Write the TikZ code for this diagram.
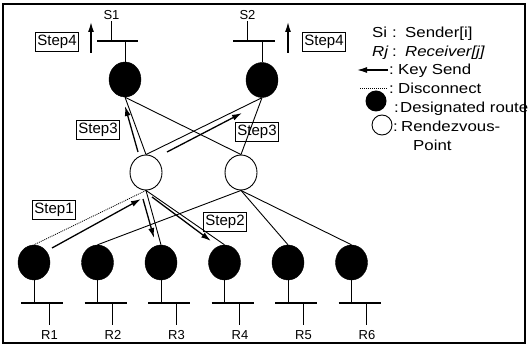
\documentclass[tikz,border=0pt]{standalone}
\usepackage{fontspec}
\setmainfont{Liberation Sans}
\newfontfamily\legfont{Liberation Sans}[FakeStretch=1.16]
\usetikzlibrary{arrows.meta,shapes.geometric}
\begin{document}
\begin{tikzpicture}[x=1pt,y=-1pt,
  rtr/.style={ellipse, fill=black, draw=black, minimum width=32pt, minimum height=35pt, inner sep=0pt},
  rpt/.style={ellipse, draw=black, line width=0.9pt, fill=white, minimum width=32pt, minimum height=35pt, inner sep=0pt},
  edge/.style={line width=0.9pt},
  disc/.style={line width=0.8pt, dash pattern=on 1pt off 1pt},
  keysend/.style={line width=1.3pt, -{Latex[length=10pt,width=6pt]}},
  stepbox/.style={draw, line width=0.9pt, font=\fontsize{15}{17}\selectfont, inner xsep=1.5pt, inner ysep=2.5pt},
  lbl/.style={font=\fontsize{13}{15}\selectfont, inner sep=0pt},
  leg/.style={font=\legfont\fontsize{14.5}{17}\selectfont, inner sep=0pt, anchor=base west},
  barline/.style={line width=1.1pt},
  stem/.style={line width=0.9pt}]
\useasboundingbox (0,0) rectangle (529,347);
\draw[line width=1.1pt] (3,4) rectangle (525,343);

% routers
\node[rtr] (S1r) at (125,79.5) {};
\node[rtr] (S2r) at (262,80) {};
\node[rpt] (P1) at (146,172.5) {};
\node[rpt] (P2) at (241,172.5) {};
\foreach \i/\c in {1/34,2/97.5,3/161,4/224.5,5/288,6/351.5}{
  \node[rtr] (R\i r) at (\c,262.5) {};
  \coordinate (R\i b) at (\c,303);
  \coordinate (R\i bl) at (\c-13,303);
  \coordinate (R\i br) at (\c+29,303);
  \coordinate (R\i s) at (\c+15,303);
  \coordinate (R\i e) at (\c+15,325);
  \draw[stem] (R\i r.south) -- (R\i b);
  \draw[barline] (R\i bl) -- (R\i br);
  \draw[stem] (R\i s) -- (R\i e);
  \node[lbl] (R\i l) at (\c+15.5,335) {R\i};
}

% sender stubs
\coordinate (S1b) at (125,41);
\coordinate (S1bl) at (97,41);
\coordinate (S1br) at (138,41);
\coordinate (S1s) at (111,41);
\coordinate (S1e) at (111,21);
\draw[stem] (S1r.north) -- (S1b);
\draw[barline] (S1bl) -- (S1br);
\draw[stem] (S1s) -- (S1e);
\node[lbl] (S1l) at (111.5,15) {S1};
\coordinate (S2b) at (262,41);
\coordinate (S2bl) at (233,41);
\coordinate (S2br) at (275,41);
\coordinate (S2s) at (247,41);
\coordinate (S2e) at (247,21);
\draw[stem] (S2r.north) -- (S2b);
\draw[barline] (S2bl) -- (S2br);
\draw[stem] (S2s) -- (S2e);
\node[lbl] (S2l) at (247.5,15) {S2};

% edges
\draw[edge] (S1r.south) -- (P1.north);
\draw[edge] (S1r.south) -- (P2.north);
\draw[edge] (S2r.south) -- (P1.north);
\draw[edge] (S2r.south) -- (P2.north);
\draw[disc] (P1.south) -- (R1r.north);
\draw[edge] (P1.south) -- (R3r.north);
\draw[edge] (P1.south) -- (R4r.north);
\draw[edge] (P2.south) -- (R2r.north);
\draw[edge] (P2.south) -- (R5r.north);
\draw[edge] (P2.south) -- (R6r.north);

% key send arrows
\coordinate (k1a) at (52,248);
\coordinate (k1b) at (141,199);
\coordinate (k2a) at (143,199);
\coordinate (k2b) at (154,238);
\coordinate (k3a) at (152,197);
\coordinate (k3b) at (211,241);
\coordinate (k4a) at (138,152);
\coordinate (k4b) at (125,106);
\coordinate (k5a) at (167,152);
\coordinate (k5b) at (242,113);
\coordinate (k6a) at (91,53);
\coordinate (k6b) at (91,22);
\coordinate (k7a) at (288,53);
\coordinate (k7b) at (288,22);
\foreach \a in {1,...,7}{\draw[keysend] (k\a a) -- (k\a b);}

% step labels
\node[stepbox] (st1) at (54,210) {Step1};
\node[stepbox] (st2) at (225,222) {Step2};
\node[stepbox] (st3a) at (98,130) {Step3};
\node[stepbox] (st3b) at (257,132) {Step3};
\node[stepbox] (st4a) at (57,42) {Step4};
\node[stepbox] (st4b) at (324,42) {Step4};

% legend
\node[leg] (l1a) at (372,38) {Si};
\node[leg] (l1b) at (392,38) {:};
\node[leg] (l1c) at (405,38) {Sender[i]};
\node[leg] (l2a) at (372,57) {\itshape Rj};
\node[leg] (l2b) at (392,57) {:};
\node[leg] (l2c) at (405,57) {\itshape Receiver[j]};
\coordinate (lk1) at (388,70);
\coordinate (lk2) at (357,70);
\draw[keysend] (lk1) -- (lk2);
\node[leg] (l3b) at (389,75) {:};
\node[leg] (l3c) at (398,75) {Key Send};
\coordinate (ld1) at (360,88);
\coordinate (ld2) at (388,88);
\draw[disc] (ld1) -- (ld2);
\node[leg] (l4b) at (389,94) {:};
\node[leg] (l4c) at (398,94) {Disconnect};
\node[circle, fill=black, minimum size=21pt, inner sep=0pt] (lc1) at (376,101) {};
\node[leg] (l5b) at (394,113) {:};
\node[leg] (l5c) at (400,113) {Designated route};
\node[circle, draw=black, line width=0.9pt, minimum size=20pt, inner sep=0pt] (lc2) at (382,125) {};
\node[leg] (l6b) at (393,132) {:};
\node[leg] (l6c) at (401,132) {Rendezvous-};
\node[leg] (l7) at (413,151) {Point};
\end{tikzpicture}
\end{document}
